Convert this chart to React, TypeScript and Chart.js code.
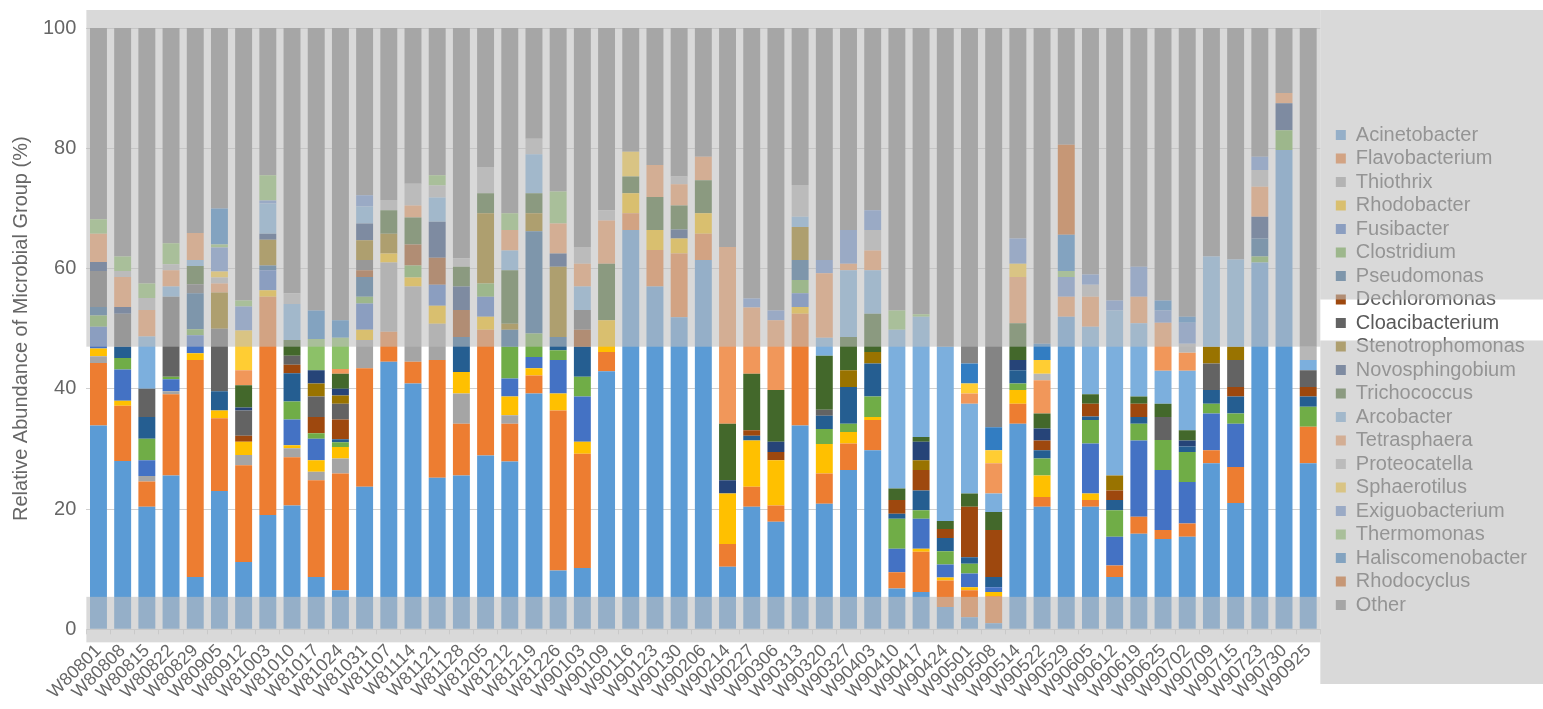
import React, { useEffect, useRef } from 'react';
import { Chart, registerables } from 'chart.js';

Chart.register(...registerables);

// ---- categories (sampling dates) ----
const SAMPLES = [
  'W80801', 'W80808', 'W80815', 'W80822', 'W80829', 'W80905', 'W80912', 'W81003', 'W81010', 'W81017',
  'W81024', 'W81031', 'W81107', 'W81114', 'W81121', 'W81128', 'W81205', 'W81212', 'W81219', 'W81226',
  'W90103', 'W90109', 'W90116', 'W90123', 'W90130', 'W90206', 'W90214', 'W90227', 'W90306', 'W90313',
  'W90320', 'W90327', 'W90403', 'W90410', 'W90417', 'W90424', 'W90501', 'W90508', 'W90514', 'W90522',
  'W90529', 'W90605', 'W90612', 'W90619', 'W90625', 'W90702', 'W90709', 'W90715', 'W90723', 'W90730',
  'W90925',
];

// ---- y ticks ----
const Y_TICKS = [0, 20, 40, 60, 80, 100];

// ---- series values (% relative abundance), one entry per sample ----
const Acinetobacter = [33.9, 28, 20.4, 25.6, 8.7, 23, 11.2, 19, 20.6, 8.7, 6.5, 23.7, 44.5, 40.9, 25.2, 25.6, 28.9, 27.9, 39.2, 9.8, 10.2, 42.9, 66.4, 57, 51.9, 61.4, 10.4, 20.4, 17.9, 33.9, 20.9, 26.5, 29.8, 6.8, 6.2, 3.7, 2, 1, 34.2, 20.4, 52, 20.4, 8.7, 15.9, 15, 15.4, 27.6, 21, 61, 79.7, 27.6];
const Flavobacterium = [10.4, 9.2, 4.2, 13.5, 36.1, 12.1, 16.1, 36.3, 8, 16.1, 19.4, 19.7, 5, 3.6, 19.6, 8.6, 20.9, 6.3, 3, 26.6, 19, 3.2, 2.8, 6.1, 10.6, 4.4, 3.8, 3.3, 2.7, 18.6, 5, 4.4, 5, 2.7, 6.7, 4.4, 4.5, 4.5, 3.3, 1.6, 0, 1.1, 1.9, 2.8, 1.5, 2.2, 2.2, 6, 0, 0, 6.1];
const Thiothrix = [1.1, 0, 0.9, 0.5, 0, 0, 1.7, 0, 1.5, 1.4, 2.5, 4.7, 11.5, 12.5, 6, 5, 0, 1.4, 0, 0, 0, 0, 0, 0, 0, 0, 0, 0, 0, 0, 0, 0, 0, 0, 0, 0, 0, 0, 0, 0, 0, 0, 0, 0, 0, 0, 0, 0, 0, 0, 0];
const Rhodobacter = [1.3, 0.8, 0, 0, 1.1, 1.3, 2.2, 1.1, 0.5, 1.9, 1.9, 1.7, 1.5, 1.5, 3, 3.6, 2.2, 3.1, 1.2, 2.8, 2, 5.3, 3.3, 3.3, 2.5, 3.4, 8.4, 7.7, 7.5, 1.1, 4.9, 1.9, 0.5, 0, 0.5, 0.5, 0.5, 0.7, 2.3, 3.6, 0, 1.1, 0, 0, 0, 0, 0, 0, 0, 0, 0];
const Fusibacter = [3.6, 5.2, 2.6, 2, 3, 0, 0, 3.3, 4.3, 3.6, 0, 4.4, 0, 0, 3.5, 0, 3.3, 3, 1.9, 5.6, 7.5, 0, 0, 0, 0, 0, 0, 0, 0, 2.3, 0, 0, 0, 3.9, 5, 2.2, 2.3, 0.8, 0, 0, 0, 8.3, 4.8, 12.7, 10, 6.9, 6.1, 7.2, 0, 0, 0];
const Clostridium = [1.9, 1.9, 3.6, 0.4, 1, 0, 0, 0, 3, 0.9, 0.8, 1.1, 0, 2, 0, 0, 2.2, 5.3, 3.9, 1.6, 3.3, 0, 0, 0, 0, 0, 0, 0, 0, 2.2, 2.5, 1.4, 3.4, 5, 1.4, 2.2, 1.6, 0, 1.1, 2.8, 0, 3.9, 4.4, 2.8, 5, 5, 1.6, 1.7, 1, 3.3, 3.3];
const Pseudomonas = [1.4, 1.9, 3.6, 0, 6, 3.2, 0, 0.8, 4.7, 0, 0.5, 3.3, 0, 0, 0, 5.8, 0, 2.8, 17, 2.2, 5, 0, 0, 0, 0, 0, 0, 0.8, 0, 3.3, 2.2, 6.1, 5.5, 0.8, 3.3, 2.2, 1.1, 1.7, 2.2, 1.4, 0, 0.6, 1.7, 1.1, 0, 0.9, 2.3, 2.8, 3, 0, 1.7];
const Dechloromonas = [0, 0, 0, 0, 0, 0, 1, 0, 1.4, 2.7, 3.3, 1.1, 0, 3.5, 4.5, 4.5, 0, 0, 0, 0, 2.8, 0, 0, 0, 0, 0, 0, 0.9, 1.4, 0, 0, 0, 0, 2.3, 3.4, 1.5, 8.4, 7.8, 0, 1.6, 0, 2.1, 1.6, 2.2, 0, 0, 0, 1.6, 0, 0, 1.6];
const Cloacibacterium = [6, 5.5, 4.7, 13.3, 1.5, 10.4, 4.2, 0, 1.5, 3.4, 2.6, 1.7, 0, 0, 0, 0, 0, 0, 0, 0, 3.3, 0, 0, 0, 0, 0, 0, 0, 0, 0, 1, 0, 0, 0, 0, 0, 0, 0, 0, 0, 0, 0, 0, 0, 3.8, 0, 4.4, 4.5, 0, 0, 2.8];
const Stenotrophomonas = [0, 0, 0, 0, 0, 6, 0, 4.3, 0, 2.2, 1.4, 3.3, 3.3, 0, 0, 0, 11.7, 1, 3, 11.7, 0, 0, 0, 0, 0, 0, 0, 0, 0, 5.5, 0, 2.8, 1.9, 0, 1.6, 0, 0, 0, 0, 0, 0, 0, 2.5, 0, 0, 0, 2.8, 2.2, 0, 0, 0];
const Novosphingobium = [1.5, 1.1, 0, 0, 0, 0, 0.5, 1, 0, 2.2, 1.1, 2.8, 0, 0, 6, 3.9, 0, 0, 0, 2.2, 0, 0, 0, 0, 1.5, 0, 2.2, 0, 1.7, 0, 0, 0, 0, 0, 3.1, 0, 0, 0, 1.7, 2, 0, 0, 0, 0, 0, 1, 0, 0, 3.6, 4.5, 0];
const Trichococcus = [0, 0, 0, 0, 3, 0, 3.7, 0, 2.6, 0, 2.5, 0, 3.9, 4.5, 0, 3.3, 3.3, 8.9, 3.3, 0, 0, 9.4, 2.8, 5.5, 4, 5.5, 9.4, 9.4, 8.6, 0, 9, 5.5, 6.4, 1.9, 0.8, 1.3, 2.2, 3, 6.1, 2.5, 0, 1.6, 0, 1.2, 2.2, 1.7, 0, 0, 0, 0, 0];
const Arcobacter = [0, 0, 8.7, 1.7, 1, 0, 0, 5, 6, 0, 0, 2.8, 0, 0, 4, 0, 0, 3.3, 6.5, 0, 3.9, 0, 0, 0, 0, 0, 0, 0, 0, 1.7, 3, 11.1, 7.2, 26.4, 20, 29, 14.9, 3.1, 0, 0, 0, 11.2, 27.4, 12.2, 5.5, 9.9, 15, 14.5, 0, 0, 1.7];
const Tetrasphaera = [4.7, 5, 4.4, 2.7, 4.5, 1.5, 2.5, 0, 0, 0, 0.8, 0, 0, 2, 0, 0, 0, 3.4, 0, 5, 3.8, 7.2, 0, 5.3, 3.5, 3.9, 29.4, 11, 11.6, 0, 10.7, 1.1, 3.3, 0, 0, 0, 1.7, 5, 7.7, 5.5, 3.3, 5, 0, 4.4, 8, 3, 0, 0, 5, 1.7, 0];
const Proteocatella = [0, 1, 2, 1, 0, 1, 0, 0, 1.8, 0, 0, 0, 1.7, 3.6, 2, 1.4, 4.4, 0, 2.6, 0, 2.8, 1.7, 0, 0, 1.3, 0, 0, 0, 0, 5.3, 0, 0, 3.4, 0, 0, 0, 0, 0, 0, 1.1, 0, 2, 0, 0, 0, 1.5, 0, 0, 2.8, 0, 2.2];
const Sphaerotilus = [0, 0, 0, 0, 0, 1, 6.6, 0, 0, 0, 0, 0, 0, 0, 0, 0, 0, 0, 0, 0, 0, 0, 4.1, 0, 0, 0, 0, 0, 0, 0, 0, 0, 0, 0, 0, 0, 1.7, 2.2, 2.2, 2.3, 0, 0, 0, 0, 0, 0, 0, 0, 0, 0, 0];
const Exiguobacterium = [0, 0, 0, 0, 0, 4, 4, 0.5, 0, 0, 0, 1.9, 0, 0, 0, 0, 0, 0, 0, 0, 0, 0, 0, 0, 0, 0, 0, 1.5, 1.6, 0, 2.2, 5.6, 3.3, 0, 0, 0, 0, 0, 4.2, 0, 3.3, 1.7, 1.7, 5, 2, 3.5, 0, 0, 2.2, 0, 0];
const Thermomonas = [2.4, 2.4, 2.4, 3.5, 0, 0.5, 1, 4.2, 0, 5.2, 5.2, 0, 0, 0, 1.7, 0, 0, 2.8, 0, 5.3, 0, 0, 0, 0, 0, 0, 0, 0, 0, 0, 0, 0, 0, 3.2, 0.4, 0, 0, 0, 0, 0, 1, 0, 0, 0, 0, 0, 0, 0, 0, 0, 0];
const Haliscomenobacter = [0, 0, 0, 0, 0, 6, 0, 0, 0, 4.7, 2.9, 0, 0, 0, 0, 0, 0, 0, 0, 0, 0, 0, 0, 0, 0, 0, 0, 0, 0, 0, 0, 0, 0, 0, 0, 0, 3.3, 3.8, 0, 2.7, 6, 0, 0, 0, 1.7, 1, 0, 0, 0, 0, 0];
const Rhodocyclus = [0, 0, 0, 0, 0, 0, 0, 0, 0, 0, 0, 0, 0, 0, 0, 0, 0, 0, 0, 0, 0, 0, 0, 0, 0, 0, 0, 0, 0, 0, 0, 0, 0, 0, 0, 0, 0, 0, 0, 0, 15, 0, 0, 0, 0, 0, 0, 0, 0, 0, 0];
const Other = [31.8, 38, 42.5, 35.8, 34.1, 30, 45.3, 24.5, 44.1, 47, 48.6, 27.8, 28.6, 25.9, 24.5, 38.3, 23.1, 30.8, 18.4, 27.2, 36.4, 30.3, 20.6, 22.8, 24.7, 21.4, 36.4, 45, 47, 26.1, 38.6, 33.6, 30.3, 47, 47.6, 53, 55.8, 66.4, 35, 52.5, 19.4, 41, 45.3, 39.7, 45.3, 48, 38, 38.5, 21.4, 10.8, 53];

const SERIES: { name: string; values: number[]; color: string }[] = [
  { name: 'Acinetobacter', values: Acinetobacter, color: '#5B9BD5' },
  { name: 'Flavobacterium', values: Flavobacterium, color: '#ED7D31' },
  { name: 'Thiothrix', values: Thiothrix, color: '#A5A5A5' },
  { name: 'Rhodobacter', values: Rhodobacter, color: '#FFC000' },
  { name: 'Fusibacter', values: Fusibacter, color: '#4472C4' },
  { name: 'Clostridium', values: Clostridium, color: '#70AD47' },
  { name: 'Pseudomonas', values: Pseudomonas, color: '#255E91' },
  { name: 'Dechloromonas', values: Dechloromonas, color: '#9E480E' },
  { name: 'Cloacibacterium', values: Cloacibacterium, color: '#636363' },
  { name: 'Stenotrophomonas', values: Stenotrophomonas, color: '#997300' },
  { name: 'Novosphingobium', values: Novosphingobium, color: '#264478' },
  { name: 'Trichococcus', values: Trichococcus, color: '#43682B' },
  { name: 'Arcobacter', values: Arcobacter, color: '#7CAFDD' },
  { name: 'Tetrasphaera', values: Tetrasphaera, color: '#F1975A' },
  { name: 'Proteocatella', values: Proteocatella, color: '#B7B7B7' },
  { name: 'Sphaerotilus', values: Sphaerotilus, color: '#FFCD33' },
  { name: 'Exiguobacterium', values: Exiguobacterium, color: '#698ED0' },
  { name: 'Thermomonas', values: Thermomonas, color: '#8CC168' },
  { name: 'Haliscomenobacter', values: Haliscomenobacter, color: '#327DC2' },
  { name: 'Rhodocyclus', values: Rhodocyclus, color: '#D26012' },
  { name: 'Other', values: Other, color: '#848484' },
];

const FONT = "'Liberation Sans', Arial, sans-serif";
const TEXT = '#595959';
const VEIL = 'rgba(190,190,190,0.585)';

// translucent grey veil that covers parts of the original picture
const veilPlugin = {
  id: 'veil',
  afterLayout(chart: any) {
    const lg = chart.legend;
    if (!lg) return;
    lg.left += 12;
    lg.right += 12;
    lg.top += 1.5;
    lg.bottom += 1.5;
  },
  afterDraw(chart: any) {
    const { ctx, chartArea, scales, width } = chart;
    const y = scales.y;
    const top = 10;
    const cut = y.getPixelForValue(47);
    const low = y.getPixelForValue(5.4);
    const base = chartArea.bottom + 13;
    const w = chartArea.right - chartArea.left;
    ctx.save();
    ctx.fillStyle = VEIL;
    ctx.fillRect(chartArea.left, top, w, cut - top);
    ctx.fillRect(chartArea.left, low, w, base - low);
    const lg = chart.legend;
    const hb = lg && lg.legendHitBoxes && lg.legendHitBoxes[8];
    const mid = hb ? hb.top + hb.height / 2 : 322;
    const s0 = mid - 23.5;
    const s1 = mid + 17.5;
    ctx.fillRect(chartArea.right, top, width - chartArea.right, s0 - top);
    ctx.fillRect(chartArea.right, s1, width - chartArea.right, 684 - s1);
    ctx.restore();
  },
};

export default function App() {
  const ref = useRef<HTMLCanvasElement | null>(null);

  useEffect(() => {
    if (!ref.current) return;
    const chart = new Chart(ref.current, {
      type: 'bar',
      data: {
        labels: SAMPLES,
        datasets: SERIES.map((s) => ({
          label: s.name,
          data: s.values,
          backgroundColor: s.color,
          borderWidth: 0,
          barPercentage: 0.7,
          categoryPercentage: 1,
        })),
      },
      options: {
        responsive: false,
        animation: false,
        layout: { padding: { left: 5, top: 28, right: 18, bottom: 0 } },
        plugins: {
          legend: {
            position: 'right',
            labels: {
              boxWidth: 10,
              boxHeight: 10,
              padding: 3.5,
              color: TEXT,
              font: { family: FONT, size: 20 },
            },
          },
          tooltip: { enabled: false },
        },
        scales: {
          x: {
            stacked: true,
            grid: { display: true, drawOnChartArea: false, drawTicks: true, tickLength: 5, color: '#d9d9d9' },
            border: { display: true, color: '#d9d9d9' },
            ticks: {
              autoSkip: false,
              maxRotation: 45,
              minRotation: 45,
              padding: 6,
              color: '#666666',
              font: { family: FONT, size: 18 },
            },
          },
          y: {
            stacked: true,
            min: 0,
            max: 100,
            afterBuildTicks: (axis: any) => {
              axis.ticks = Y_TICKS.map((v) => ({ value: v }));
            },
            ticks: { color: '#666666', padding: 10, font: { family: FONT, size: 20 } },
            grid: { color: '#d0d0d0', drawTicks: false },
            border: { display: false },
            title: {
              display: true,
              text: 'Relative Abundance of Microbial Group (%)',
              color: '#666666',
              font: { family: FONT, size: 20 },
              padding: { top: 4, bottom: 0 },
            },
          },
        },
      },
      plugins: [veilPlugin],
    } as any);
    return () => chart.destroy();
  }, []);

  return (
    <div style={{ position: 'absolute', left: 0, top: 0, width: 1543, height: 709, background: '#fff' }}>
      <canvas ref={ref} width={1543} height={709} style={{ display: 'block' }} />
    </div>
  );
}
